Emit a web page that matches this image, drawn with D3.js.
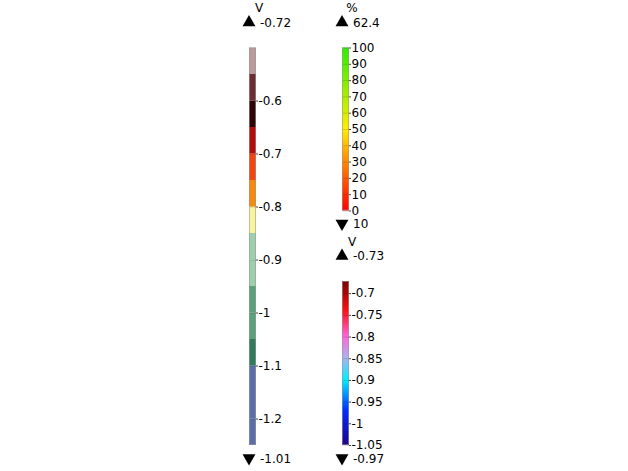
<!DOCTYPE html>
<html>
<head>
<meta charset="utf-8">
<script src="https://cdn.jsdelivr.net/npm/d3@7"></script>
<style>
  body { margin: 0; background: #fff; }
  svg { display: block; font-family: "DejaVu Sans", sans-serif; }
</style>
</head>
<body>
<svg id="chart" width="628" height="471"></svg>
<script>
// potential bar (discrete levels, V)
const potBreaks = [-1.25, -1.2, -1.15, -1.1, -1.05, -1.0, -0.95, -0.9, -0.85, -0.8, -0.75, -0.7, -0.65, -0.6, -0.55, -0.5];
const potColors = ["#5b6ea9", "#5b6ea9", "#5b6ea9", "#2f7b5c", "#5aa27c", "#5aa27c", "#9dcfab", "#9dcfab",
  "#f8f49c", "#f58a0c", "#f3430f", "#b50b0a", "#2f0407", "#6d2e33", "#ba9a9d"];
const potTicks = [-0.6, -0.7, -0.8, -0.9, -1, -1.1, -1.2];

// percentage bar
const pctTicks = [0, 10, 20, 30, 40, 50, 60, 70, 80, 90, 100];
const pctStops = [0, 30, 50, 100];
const pctColors = ["#ff0000", "#ff8a00", "#ffee00", "#2eee00"];

// second potential bar (continuous)
const discoStops = [-1.05, -0.97, -0.9, -0.85, -0.8, -0.74, -0.672];
const discoColors = ["#22008a", "#0030ff", "#00eeff", "#a8b4ee", "#ff66dd", "#ff1010", "#780000"];
const discoTicks = [-0.7, -0.75, -0.8, -0.85, -0.9, -0.95, -1, -1.05];

// headers
const units = ["V", "%", "V"];
const maxLabels = ["-0.72", "62.4", "-0.73"];
const minLabels = ["-1.01", "10", "-0.97"];

const svg = d3.select("#chart");
const barW = 7;
const fmt = d => String(+d.toFixed(3));  // plain hyphen minus like the original

const bars = [
  { x: 249, top: 47.5, bottom: 445, domain: [-1.25, -0.5] },
  { x: 342, top: 47.5, bottom: 210.5, domain: [0, 100] },
  { x: 342, top: 281, bottom: 445, domain: [-1.05, -0.672] }
];

bars.forEach(function (b) {
  b.y = d3.scaleLinear().domain(b.domain).range([b.bottom, b.top]);
});

// bar 1: discrete blocks
const g1 = svg.append("g");
g1.selectAll("rect")
  .data(potColors)
  .join("rect")
  .attr("x", bars[0].x)
  .attr("width", barW)
  .attr("y", (d, i) => bars[0].y(potBreaks[i + 1]))
  .attr("height", (d, i) => bars[0].y(potBreaks[i]) - bars[0].y(potBreaks[i + 1]))
  .attr("fill", d => d);

// continuous gradients
const defs = svg.append("defs");
function addGradient(id, stops, colors, scale) {
  const lo = d3.min(scale.domain()), hi = d3.max(scale.domain());
  const grad = defs.append("linearGradient")
    .attr("id", id)
    .attr("x1", 0).attr("x2", 0).attr("y1", 1).attr("y2", 0);
  grad.selectAll("stop")
    .data(stops)
    .join("stop")
    .attr("offset", d => (d - lo) / (hi - lo))
    .attr("stop-color", (d, i) => colors[i]);
}
addGradient("pctGrad", pctStops, pctColors, bars[1].y);
addGradient("discoGrad", discoStops, discoColors, bars[2].y);

svg.append("rect")
  .attr("x", bars[1].x).attr("width", barW)
  .attr("y", bars[1].top).attr("height", bars[1].bottom - bars[1].top)
  .attr("fill", "url(#pctGrad)");
svg.append("rect")
  .attr("x", bars[2].x).attr("width", barW)
  .attr("y", bars[2].top).attr("height", bars[2].bottom - bars[2].top)
  .attr("fill", "url(#discoGrad)");

// outlines
svg.selectAll("rect.outline")
  .data(bars)
  .join("rect")
  .attr("class", "outline")
  .attr("x", d => d.x + 0.5)
  .attr("y", d => d.top + 0.5)
  .attr("width", barW - 1)
  .attr("height", d => d.bottom - d.top - 1)
  .attr("fill", "none")
  .attr("stroke", "#999")
  .attr("stroke-opacity", 0.6);

// axes
const tickSets = [potTicks, pctTicks, discoTicks];
bars.forEach(function (b, i) {
  const axis = d3.axisRight(b.y)
    .tickValues(tickSets[i])
    .tickFormat(fmt)
    .tickSize(2)
    .tickPadding(0.5);
  const ga = svg.append("g")
    .attr("transform", "translate(" + (b.x + barW) + ",0)")
    .call(axis);
  ga.select(".domain").remove();
  ga.selectAll(".tick line").attr("stroke", "#444");
  ga.selectAll(".tick text")
    .attr("fill", "#000")
    .style("font-family", "'DejaVu Sans', sans-serif")
    .style("font-size", "12px");
  // faint tick marks inside the bar
  svg.append("g").selectAll("line")
    .data(tickSets[i])
    .join("line")
    .attr("x1", b.x + 1).attr("x2", b.x + barW)
    .attr("y1", d => b.y(d) + 0.5).attr("y2", d => b.y(d) + 0.5)
    .attr("stroke", "#000")
    .attr("stroke-opacity", 0.15);
});

// headers: unit, max and min markers
const tri = d3.symbol().type(d3.symbolTriangle).size(72);
bars.forEach(function (b, i) {
  svg.append("text")
    .attr("x", b.x + 10)
    .attr("y", b.top - 35.5)
    .attr("text-anchor", "middle")
    .style("font-size", "12px")
    .text(units[i]);

  svg.append("path")
    .attr("d", tri)
    .attr("transform", "translate(" + b.x + "," + (b.top - 25) + ")")
    .attr("fill", "#000");
  svg.append("text")
    .attr("x", b.x + 11)
    .attr("y", b.top - 21)
    .style("font-size", "12px")
    .text(maxLabels[i]);

  svg.append("path")
    .attr("d", tri)
    .attr("transform", "translate(" + b.x + "," + (b.bottom + 13) + ") rotate(180)")
    .attr("fill", "#000");
  svg.append("text")
    .attr("x", b.x + 11)
    .attr("y", b.bottom + 17.5)
    .style("font-size", "12px")
    .text(minLabels[i]);
});
</script>
</body>
</html>
